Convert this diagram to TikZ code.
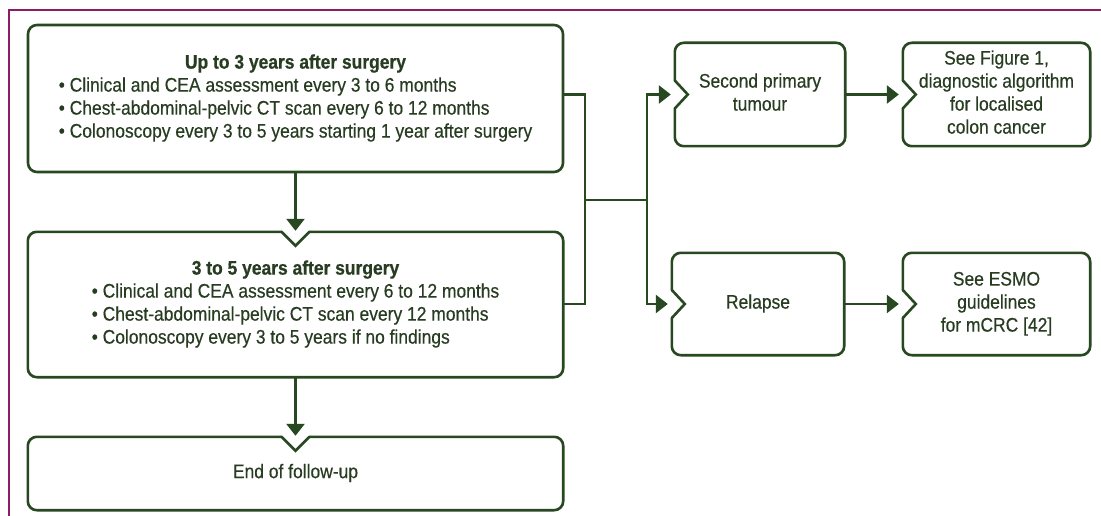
\documentclass[tikz,border=0pt]{standalone}
\usepackage{fontspec}
\setmainfont{Liberation Sans}[FakeStretch=0.89,FakeBold=0.4,BoldFeatures={FakeBold=0.6}]
\usetikzlibrary{arrows.meta}
\definecolor{dgreen}{RGB}{40,72,34}
\definecolor{tgreen}{RGB}{40,60,34}
\definecolor{framecol}{RGB}{140,28,100}
\newcommand{\ctab}[1]{\begin{tabular}{@{}c@{}}#1\end{tabular}}
\newcommand{\ltab}[1]{\begin{tabular}{@{}l@{}}#1\end{tabular}}
\newcommand{\ttl}[1]{\multicolumn{1}{@{}c@{}}{\textbf{#1}}}
\newcommand{\boxL}[1]{%
  \draw[outline, rounded corners=9pt] ([yshift=14pt]#1.west) -- (#1.north west) -- (#1.north east) -- (#1.south east) -- (#1.south west) -- ([yshift=-14pt]#1.west);
  \draw[outline, line join=miter] ([yshift=14pt]#1.west) -- ([xshift=13pt]#1.west) -- ([yshift=-14pt]#1.west);}
\newcommand{\boxT}[1]{%
  \draw[outline, rounded corners=9pt] ([xshift=14pt]#1.north) -- (#1.north east) -- (#1.south east) -- (#1.south west) -- (#1.north west) -- ([xshift=-14pt]#1.north);
  \draw[outline, line join=miter] ([xshift=-14pt]#1.north) -- ([yshift=-14pt]#1.north) -- ([xshift=14pt]#1.north);}
\begin{document}
\begin{tikzpicture}[x=1pt,y=-1pt,
  bx/.style={rectangle, inner sep=0pt, text=tgreen, font=\fontsize{19.6}{23}\selectfont},
  outline/.style={draw=dgreen, line width=2.6pt, line cap=round, line join=round},
  conn/.style={draw=dgreen, line width=2.6pt},
  arr/.style={conn, -{Triangle[length=12pt,width=18pt]}}]
\useasboundingbox (0,0) rectangle (1101,516);
\fill[white] (0,0) rectangle (1101,516);
\draw[draw=framecol, line width=2pt] (9,516) -- (9,10) -- (1101,10);

\node[bx, minimum width=535pt, minimum height=147pt, draw=dgreen, line width=2.6pt, rounded corners=9pt] (b1) at (295.5,98.5)
  {\ltab{\ttl{Up to 3 years after surgery}\\
   •\ Clinical and CEA assessment every 3 to 6 months\\
   •\ Chest-abdominal-pelvic CT scan every 6 to 12 months\\
   •\ Colonoscopy every 3 to 5 years starting 1 year after surgery}};
\node[bx, minimum width=535pt, minimum height=145pt] (b2) at (295.5,304.5)
  {\ltab{\ttl{3 to 5 years after surgery}\\
   •\ Clinical and CEA assessment every 6 to 12 months\\
   •\ Chest-abdominal-pelvic CT scan every 12 months\\
   •\ Colonoscopy every 3 to 5 years if no findings}};
\node[bx, minimum width=535pt, minimum height=73pt] (b3) at (295.5,473.5) {\ctab{End of follow-up}};
\node[bx, minimum width=170pt, minimum height=103pt] (sp) at (760,94.5) {\ctab{Second primary\\tumour}};
\node[bx, minimum width=187pt, minimum height=103pt] (fig) at (996.5,94.5) {\ctab{See Figure 1,\\diagnostic algorithm\\for localised\\colon cancer}};
\node[bx, minimum width=172pt, minimum height=102pt] (rel) at (758,304) {\ctab{Relapse}};
\node[bx, minimum width=187pt, minimum height=102pt] (esmo) at (996.5,304) {\ctab{See ESMO\\guidelines\\for mCRC [42]}};

\boxT{b2}
\boxT{b3}
\boxL{sp}
\boxL{fig}
\boxL{rel}
\boxL{esmo}

\coordinate (j1) at (585,200);
\coordinate (j2) at (647,200);
\draw[conn] (b1.east |- sp.west) -| (j1) |- (b2.east |- rel.west);
\draw[conn] (j1) -- (j2);
\draw[arr, shorten >=4pt] (j2) |- (sp.west);
\draw[arr, shorten >=4pt] (j2) |- (rel.west);
\draw[arr, shorten >=4pt] (sp.east) -- (fig.west);
\draw[arr, shorten >=4pt] (rel.east) -- (esmo.west);
\draw[arr, shorten >=1pt] (b1.south) -- (b2.north);
\draw[arr, shorten >=1pt] (b2.south) -- (b3.north);
\end{tikzpicture}
\end{document}
